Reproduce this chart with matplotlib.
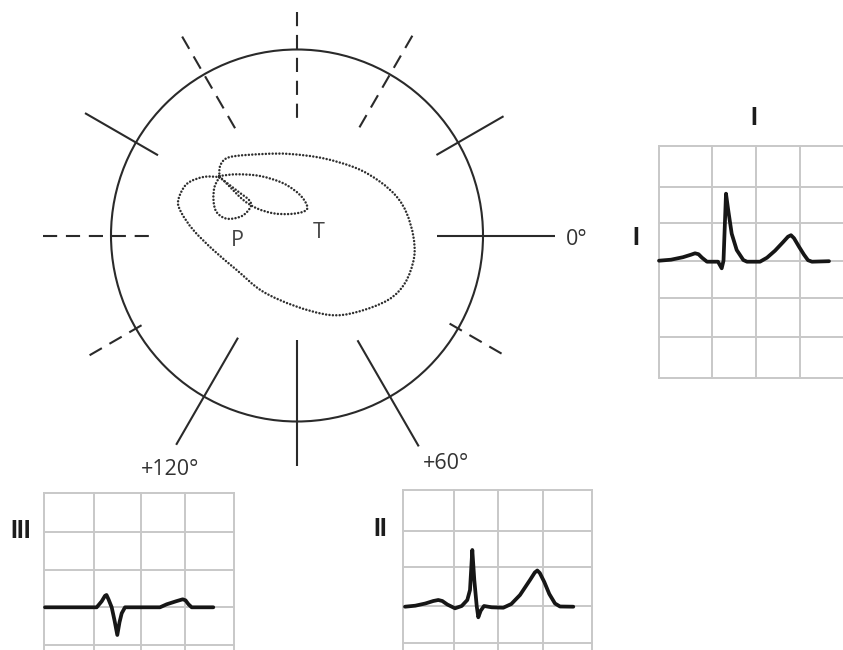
import numpy as np
import matplotlib
matplotlib.use("Agg")
import matplotlib.pyplot as plt
from matplotlib.path import Path
from matplotlib.patches import Circle, PathPatch

W, H = 843, 650

# ---------------- hexaxial reference (angles in degrees, y axis pointing down) ----------------
lead_angles = [0, 30, 60, 90, 120, 150, 180, -150, -120, -90, -60, -30]
spoke_inner = [139.5, 171.5, 121, 104.5, 118, 175.8, 140.3, 160.5, 115.5, 111.5, 117, 161]
spoke_outer = [257.5, 236.2, 243.5, 230.5, 241.7, 239.5, 253.7, 244.8, 229.7, 223.5, 230.7, 238.5]
spoke_dashed = [False, True, False, False, False, True, True, False, True, True, True, False]
circle_radius = 186

angle_labels = ['0°', '+60°', '+120°']
angle_label_xy = [(279.7, 9.5), (149.2, 233.8), (-126.7, 239.5)]

# vectorcardiographic loops (x, y)
qrs_loop = [(-77.7, -58.5), (-76.5, -70.5), (-67, -78.5), (-33.7, -81.5), (-7, -81.5), (26.3, -77.2),
            (59.7, -67.2), (83, -53.8), (99.7, -38.8), (109.7, -22.2), (116.3, 0.5), (117, 22.5),
            (108, 47.5), (91, 64.5), (60, 76.5), (33, 79.5), (-2, 70.5), (-35, 55.5), (-60.3, 34.5),
            (-83.7, 14.5), (-103.7, -5.5), (-116, -23.5), (-118.7, -35.5), (-110.3, -51.5),
            (-93.7, -58.5), (-77.7, -58.5)]
p_loop = [(-77.7, -58.2), (-82.5, -48.5), (-83.5, -35.5), (-80.5, -23.5), (-70, -16.8), (-55, -19.5),
          (-46.3, -28.8), (-48, -35.5), (-58.7, -43.8), (-70, -52.5), (-77.7, -58.2)]
t_loop = [(-77.7, -59.5), (-60.3, -61.2), (-37, -59.5), (-13.7, -52.2), (3, -40.5), (10.3, -28.8),
          (6.3, -23.8), (-7, -21.5), (-23.7, -22.2), (-40.3, -27.2), (-53.7, -35.5), (-67, -48.5),
          (-77.7, -59.5)]
loop_labels = ['P', 'T']
loop_label_xy = [(-59.5, 10.5), (21.3, 2.8)]

# ---------------- ECG leads ----------------
lead_I_t = [0, 12, 24, 32, 36, 39.5, 43, 48, 59, 62.7, 64.5, 67, 69.3, 72.7, 77.7, 84.3, 88, 101,
            108, 116, 124, 129, 132, 135, 140, 145, 149, 153, 170]
lead_I_v = [0, 1, 3.5, 6, 7.4, 6.5, 3, -1, -1, -7.6, 0, 67, 50, 27, 10.7, 0.7, -1, -1,
            3, 10, 18.5, 24, 25.5, 22.5, 14, 6, 0.5, -1, -0.5]
lead_II_t = [1.7, 12, 22, 30, 35, 39, 44, 51.7, 58.4, 64, 66.7, 69, 71, 73.4, 75, 77.4, 80.7, 88.4, 100,
             108, 116.7, 126.7, 131.5, 134, 136.5, 141, 146, 151.7, 156.7, 170]
lead_II_v = [-0.7, 0.3, 2.5, 5, 6, 5, 1.5, -2.3, 0, 6, 16, 56, 26, 0, -11.3, -4.7, 0, -1.3, -1.7,
             2, 11, 26, 33.5, 35.5, 33, 24, 12, 2.5, -0.5, -0.7]
lead_III_t = [1, 52.7, 57.7, 61, 62.5, 64.5, 67.7, 70.5, 73.3, 75.5, 77.7, 81, 116, 122.7, 132, 138.7,
              141.5, 144.5, 147.7, 169.3]
lead_III_v = [0, 0, 6, 11.5, 12.3, 8, 0, -13, -27.7, -15, -6, 0, 0, 3, 6, 8, 7, 3, 0, 0]

grid_I_x = [0, 52.7, 96.7, 141, 185]
grid_I_y = [114.7, 74, 38, 0, -37.6, -76.6, -117]
grid_II_x = [0, 51, 95, 139.4, 188.4]
grid_II_y = [116, 75.3, 38.7, 0, -37.3]
grid_III_x = [0, 50, 96.7, 140.7, 190]
grid_III_y = [114.6, 75.6, 37.3, 0, -37.7]

INK = '#2a2a2a'
TRACE = '#161616'
GRID = '#c8c8c8'


def smooth_path(points):
    P = np.asarray(points, float)
    n = len(P)
    verts = [P[0]]
    codes = [Path.MOVETO]
    for i in range(n - 1):
        p0 = P[i - 1] if i > 0 else P[i]
        p1, p2 = P[i], P[i + 1]
        p3 = P[i + 2] if i + 2 < n else P[i + 1]
        verts += [p1 + (p2 - p0) / 6.0, p2 - (p3 - p1) / 6.0, p2]
        codes += [Path.CURVE4] * 3
    return Path(verts, codes)


fig = plt.figure(figsize=(W / 100, H / 100), dpi=100)
fig.patch.set_facecolor('white')

# main diagram axes, origin at centre of circle
cx, cy = 297, 235.5
ax = fig.add_axes([0, 0, 1, 1])
ax.set_xlim(-cx, W - cx)
ax.set_ylim(H - cy, -cy)
ax.axis('off')

ax.add_patch(Circle((0, 0), circle_radius, fill=False, lw=1.5, ec=INK))
for ang, r0, r1, dashed in zip(lead_angles, spoke_inner, spoke_outer, spoke_dashed):
    a = np.deg2rad(ang)
    xs = [r1 * np.cos(a), r0 * np.cos(a)]
    ys = [r1 * np.sin(a), r0 * np.sin(a)]
    ax.plot(xs, ys, color=INK, lw=1.5, solid_capstyle='butt',
            linestyle=(0, (6.8, 4.2)) if dashed else '-', dash_capstyle='butt')

for lab, (x, y) in zip(angle_labels, angle_label_xy):
    ax.text(x, y, lab, ha='center', va='baseline', fontsize=15.5, family='Open Sans', color='#333333')

for loop in (qrs_loop, p_loop, t_loop):
    ax.add_patch(PathPatch(smooth_path(loop), fill=False, ec='#2e2e2e', lw=1.8,
                           linestyle=(0, (0.01, 1.35)), capstyle='round'))
for lab, (x, y) in zip(loop_labels, loop_label_xy):
    ax.text(x, y, lab, ha='center', va='baseline', fontsize=15.5, family='Open Sans', color='#444444')


def panel(px_left, px_top, px_right, px_bottom, base_px):
    a = fig.add_axes([px_left / W, 1 - px_bottom / H, (px_right - px_left) / W, (px_bottom - px_top) / H])
    a.set_xlim(0, px_right - px_left)
    a.set_ylim(base_px - px_bottom, base_px - px_top)
    a.axis('off')
    return a


def draw_grid(a, gx, gy, y_low, x_high):
    for x in gx:
        a.plot([x, x], [y_low, gy[0]], color=GRID, lw=1.4, clip_on=False, zorder=1, solid_capstyle='projecting')
    for y in gy:
        a.plot([gx[0], x_high], [y, y], color=GRID, lw=1.4, clip_on=False, zorder=1, solid_capstyle='projecting')


def draw_trace(a, t, v):
    a.plot(t, v, color=TRACE, lw=2.7, solid_joinstyle='round', solid_capstyle='round', clip_on=False, zorder=3)


lbl = dict(ha='center', va='baseline', fontsize=18, family='Liberation Sans', fontweight='bold', color='#1c1c1c')

# lead I (right)
aI = panel(659, 146, 843, 378, 260.7)
draw_grid(aI, grid_I_x, grid_I_y, grid_I_y[-1], grid_I_x[-1])
draw_trace(aI, lead_I_t, lead_I_v)
aI.text(95, 136, 'I', **lbl)
aI.text(-23.5, 16, 'I', **lbl)

# lead III (bottom left)
aIII = panel(44, 492.7, 234, 660, 607.3)
draw_grid(aIII, grid_III_x, grid_III_y, -60, grid_III_x[-1])
draw_trace(aIII, lead_III_t, lead_III_v)
aIII.text(-23, 69.3, 'III', **lbl)

# lead II (bottom middle)
aII = panel(403.3, 490, 591.7, 660, 606)
draw_grid(aII, grid_II_x, grid_II_y, -60, grid_II_x[-1])
draw_trace(aII, lead_II_t, lead_II_v)
aII.text(-23.3, 70, 'II', **lbl)

fig.savefig('out.png', dpi=100, facecolor='white')
